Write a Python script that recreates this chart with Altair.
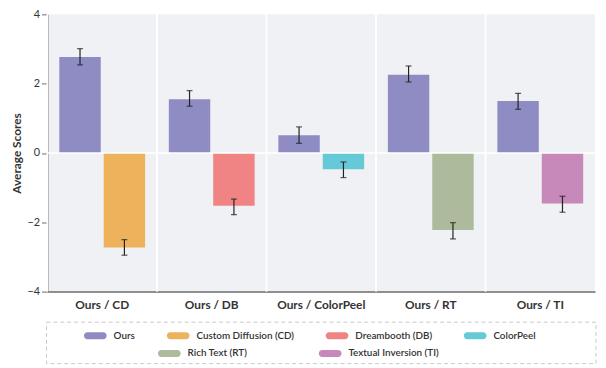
import altair as alt
import pandas as pd

categories = ["Ours / CD", "Ours / DB", "Ours / ColorPeel", "Ours / RT", "Ours / TI"]
baselines = ["Custom Diffusion (CD)", "Dreambooth (DB)", "ColorPeel", "Rich Text (RT)", "Textual Inversion (TI)"]
ours_values = [2.77, 1.55, 0.51, 2.26, 1.50]
ours_err_low = [2.54, 1.35, 0.28, 2.05, 1.26]
ours_err_high = [3.01, 1.80, 0.75, 2.51, 1.72]
base_values = [-2.73, -1.52, -0.47, -2.22, -1.46]
base_err_low = [-2.95, -1.78, -0.71, -2.48, -1.71]
base_err_high = [-2.50, -1.33, -0.26, -2.01, -1.25]
methods = ["Ours"] + baselines
colors = ["#8F8BC3", "#EDB25B", "#F08484", "#65C9D7", "#ADBA9C", "#C689BA"]
legend_row1 = methods[:4]
legend_row2 = methods[4:]

rows = []
for i, cat in enumerate(categories):
    rows.append(dict(category=cat, side=0, method="Ours", value=ours_values[i],
                     lo=ours_err_low[i], hi=ours_err_high[i]))
    rows.append(dict(category=cat, side=1, method=baselines[i], value=base_values[i],
                     lo=base_err_low[i], hi=base_err_high[i]))
df = pd.DataFrame(rows)

FONT = "Lato"
PILL = "M-0.7,-0.3L0.7,-0.3A0.3,0.3,0,0,1,0.7,0.3L-0.7,0.3A0.3,0.3,0,0,1,-0.7,-0.3Z"

x_axis = alt.Axis(title=None, labelAngle=0, grid=False, ticks=False, tickSize=0,
                  bandPosition=0.5,
                  domainColor="#6b6b6b", domainWidth=1.5,
                  labelFont=FONT, labelFontWeight="bold", labelFontSize=12,
                  labelColor="#333333", labelPadding=8)
x_scale = alt.Scale(paddingInner=0, paddingOuter=0)
x_enc = alt.X("category:N", sort=categories, scale=x_scale, axis=x_axis)
xoff = alt.XOffset("side:N", scale=alt.Scale(paddingInner=0.067, paddingOuter=0.267))
y_scale = alt.Scale(domain=[-4, 4], nice=False)
y_enc = alt.Y("value:Q", scale=y_scale,
              axis=alt.Axis(values=[-4, -2, 0, 2, 4], grid=False, title="Average Scores",
                            domainColor="#6b6b6b", domainWidth=1.5,
                            tickColor="#6b6b6b", tickSize=6, tickWidth=1,
                            labelFont=FONT, labelFontSize=11, labelColor="#333333",
                            labelPadding=2,
                            titleFont=FONT, titleFontSize=12, titleFontWeight="bold",
                            titleColor="#333333", titlePadding=4))

base = alt.Chart(df)

legend_style = dict(
    title=None, orient="none", direction="horizontal",
    symbolType=PILL, symbolSize=529, symbolStrokeWidth=0, symbolOpacity=1,
    labelFont=FONT, labelFontSize=10, labelFontWeight=600, labelColor="#333333",
    labelOffset=7, padding=0, rowPadding=0,
)

bars1 = base.mark_bar().encode(
    x=x_enc, xOffset=xoff, y=y_enc,
    color=alt.Color("method:N",
                    scale=alt.Scale(domain=legend_row1, range=colors[:4]),
                    legend=alt.Legend(columns=4, columnPadding=32,
                                      legendX=37, legendY=314, **legend_style)),
).transform_filter(alt.FieldOneOfPredicate(field="method", oneOf=legend_row1))

bars2 = base.mark_bar().encode(
    x=x_enc, xOffset=xoff, y=y_enc,
    fill=alt.Fill("method:N",
                  scale=alt.Scale(domain=legend_row2, range=colors[4:]),
                  legend=alt.Legend(columns=2, columnPadding=72,
                                    legendX=112, legendY=332, **legend_style)),
).transform_filter(alt.FieldOneOfPredicate(field="method", oneOf=legend_row2))

sep = base.mark_rule(color="white", strokeWidth=1.5).encode(
    x=alt.X("category:N", sort=categories, bandPosition=0, scale=x_scale, axis=x_axis)
)

zero = alt.Chart(pd.DataFrame({"z": [0]})).mark_rule(color="white", strokeWidth=1.5).encode(
    y=alt.Y("z:Q", scale=y_scale)
)

err = base.mark_rule(color="#222222", strokeWidth=1.2).encode(
    x=x_enc, xOffset=xoff, y=alt.Y("lo:Q", scale=y_scale), y2="hi:Q"
)
cap_lo = base.mark_tick(color="#222222", thickness=1.3, size=6).encode(
    x=x_enc, xOffset=xoff, y=alt.Y("lo:Q", scale=y_scale)
)
cap_hi = base.mark_tick(color="#222222", thickness=1.3, size=6).encode(
    x=x_enc, xOffset=xoff, y=alt.Y("hi:Q", scale=y_scale)
)

box = alt.Chart(pd.DataFrame({"b": [0]})).mark_rect(
    fillOpacity=0, stroke="#c8c8c8", strokeWidth=1, strokeDash=[4, 3]
).encode(x=alt.value(-1), x2=alt.value(556), y=alt.value(312), y2=alt.value(354))

chart = alt.layer(bars1, sep, bars2, zero, err, cap_lo, cap_hi, box).properties(
    width=555, height=281,
    autosize=alt.AutoSizeParams(type="none"),
    padding={"left": 40, "top": 4, "right": 3, "bottom": 75},
).configure(
    font=FONT, background="white", view=alt.ViewConfig(fill="#F0F1F4", stroke=None)
)

chart.save("out.html", embed_options={"renderer": "svg", "actions": False})
